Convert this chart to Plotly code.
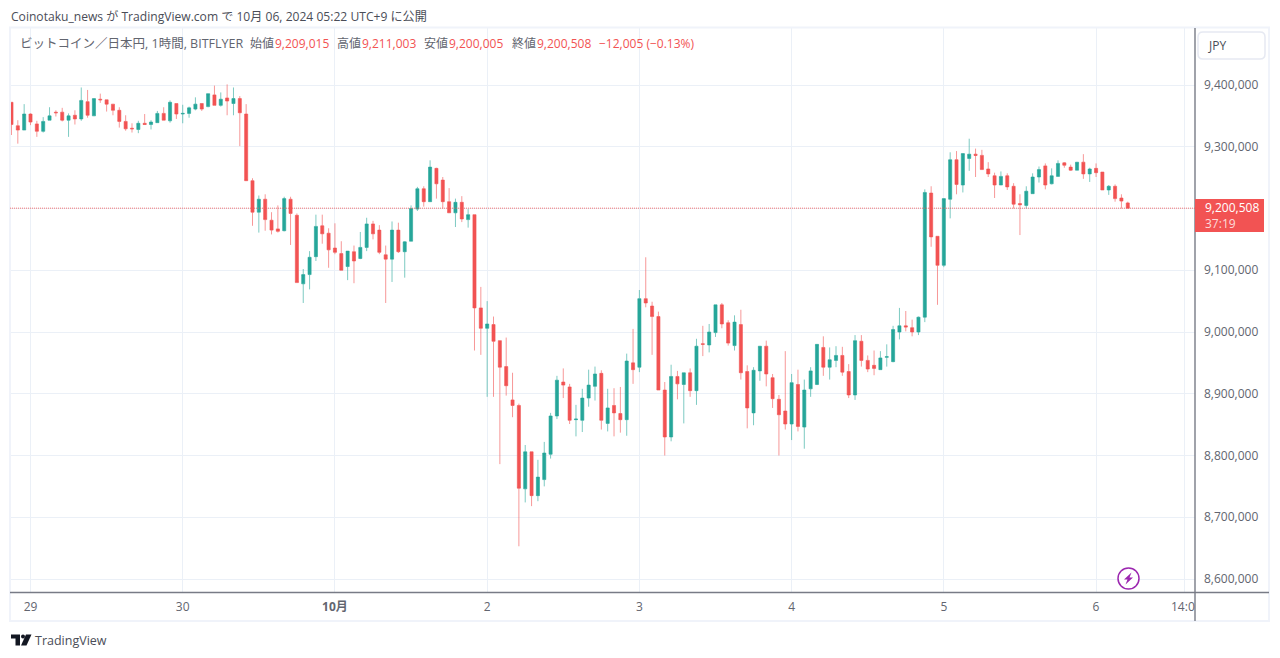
import pandas as pd
import plotly.graph_objects as go

opens = [9372,9334,9327,9353,9337,9325,9343,9356,9356,9343,
9351,9345,9373,9350,9377,9376,9369,9359,9341,9330,
9328,9338,9336,9339,9354,9342,9370,9353,9354,9361,
9370,9365,9384,9367,9379,9370,9378,9353,9245,9194,
9215,9181,9167,9164,9215,9189,9078,9093,9122,9172,
9160,9136,9127,9106,9130,9119,9137,9175,9165,9125,
9118,9165,9130,9147,9199,9232,9211,9265,9246,9211,
9193,9210,9182,9190,9039,9006,9012,8986,8944,8890,
8881,8746,8806,8735,8761,8802,8864,8919,8911,8858,
8857,8893,8912,8933,8852,8881,8868,8858,8950,8943,
9054,9042,9025,8906,8830,8928,8915,8934,8905,8981,
8979,8999,9044,9015,8978,9012,8936,8869,8937,8977,
8926,8891,8872,8851,8915,8846,8908,8915,8975,8943,
8954,8962,8936,8898,8985,8954,8946,8939,8959,8952,
9000,9010,9007,9000,9024,9225,9155,9108,9215,9279,
9238,9281,9288,9286,9264,9253,9238,9253,9236,9208,
9205,9224,9251,9269,9240,9252,9274,9267,9262,9275,
9256,9265,9259,9230,9236,9217,9209.015]
highs = [9372,9343,9369,9354,9342,9348,9364,9359,9363,9354,
9359,9396,9392,9378,9386,9376,9369,9364,9351,9338,
9342,9353,9343,9358,9364,9375,9370,9368,9365,9380,
9370,9386,9399,9388,9401,9396,9382,9369,9249,9221,
9223,9194,9205,9219,9219,9192,9102,9131,9190,9190,
9168,9176,9147,9131,9140,9162,9185,9180,9173,9140,
9179,9177,9147,9205,9235,9236,9278,9266,9251,9233,
9216,9220,9199,9190,9073,9050,9025,8986,8991,8934,
8884,8817,8806,8793,8822,8869,8929,8941,8916,8882,
8908,8939,8944,8938,8908,8909,8911,8965,9005,9068,
9121,9049,9033,8919,8947,8937,8934,8941,8989,9010,
9013,9044,9047,9019,9027,9036,8946,8943,8977,8986,
8932,8898,8969,8932,8939,8923,8943,8980,8993,8975,
8977,8976,8948,8995,8995,8962,8970,8969,8980,9010,
9039,9034,9020,9025,9231,9236,9155,9216,9291,9293,
9289,9313,9297,9295,9275,9258,9260,9257,9241,9223,
9236,9257,9268,9273,9265,9278,9275,9271,9275,9288,
9266,9273,9259,9238,9239,9223,9211.003]
lows = [9319,9305,9327,9335,9316,9323,9343,9349,9341,9316,
9336,9342,9347,9350,9371,9357,9351,9331,9326,9323,
9322,9336,9328,9339,9343,9339,9345,9338,9347,9359,
9358,9364,9367,9365,9351,9351,9301,9245,9172,9161,
9164,9158,9161,9163,9141,9080,9047,9069,9115,9143,
9104,9126,9100,9084,9079,9118,9131,9150,9126,9047,
9081,9128,9088,9147,9196,9203,9211,9216,9200,9193,
9170,9178,9169,8970,8963,8895,8895,8786,8897,8862,
8653,8724,8718,8726,8750,8795,8859,8893,8851,8831,
8838,8879,8889,8842,8839,8831,8837,8832,8916,8935,
9040,8963,8906,8800,8823,8891,8852,8895,8882,8961,
8967,8992,9006,8978,8970,8923,8844,8849,8921,8912,
8877,8800,8842,8825,8839,8811,8895,8914,8929,8923,
8943,8929,8893,8890,8944,8935,8930,8939,8944,8951,
8988,9001,8993,8995,9016,9138,9044,9105,9184,9223,
9226,9261,9251,9263,9251,9217,9238,9230,9200,9157,
9200,9224,9242,9231,9239,9252,9266,9261,9262,9248,
9243,9251,9230,9222,9211,9200,9200.005]
closes = [9336,9327,9353,9340,9325,9341,9350,9355,9343,9350,
9345,9375,9351,9378,9376,9369,9359,9341,9329,9329,
9338,9336,9340,9354,9343,9372,9353,9354,9363,9369,
9361,9386,9367,9377,9374,9378,9355,9245,9194,9215,
9182,9165,9163,9216,9192,9080,9093,9121,9171,9159,
9133,9129,9100,9131,9115,9137,9175,9159,9129,9118,
9165,9130,9146,9200,9232,9211,9267,9240,9211,9193,
9210,9183,9190,9039,9006,9013,8985,8943,8913,8881,
8747,8806,8735,8765,8804,8864,8922,8914,8857,8859,
8893,8914,8932,8857,8877,8869,8858,8953,8939,9054,
9047,9025,8906,8830,8928,8916,8934,8905,8977,8980,
9000,9044,9013,8982,9016,8934,8877,8938,8977,8932,
8892,8866,8851,8918,8847,8906,8937,8980,8943,8955,
8962,8935,8898,8986,8954,8940,8941,8958,8960,9004,
9010,9008,9000,9024,9226,9154,9108,9216,9279,9239,
9289,9288,9286,9263,9256,9238,9252,9235,9207,9206,
9228,9251,9263,9238,9253,9273,9270,9262,9275,9256,
9264,9258,9230,9236,9216,9212,9200.508]
hours = pd.date_range("2024-09-28 21:00", periods=len(opens), freq="h")

x_tick_dates = ["2024-09-29","2024-09-30","2024-10-01","2024-10-02","2024-10-03","2024-10-04","2024-10-05","2024-10-06","2024-10-06 14:00"]
x_tick_labels = ["29","30","<b>10月</b>","2","3","4","5","6",""]
y_tick_values = [8600,8700,8800,8900,9000,9100,9200,9300,9400]
y_tick_labels = ["8,600,000","8,700,000","8,800,000","8,900,000","9,000,000","9,100,000","9,200,000","9,300,000","9,400,000"]
last_close = 9200.508

W, H = 1280, 658
RED, GREEN = "#F25353", "#26A69A"
GRID, AXIS, TEXT = "#EBF0F7", "#787B86", "#62656F"
FONT = "'Open Sans','Noto Sans CJK JP',sans-serif"
def px(v): return v / W
def py(v): return 1 - v / H

fig = go.Figure(go.Candlestick(
    x=hours, open=opens, high=highs, low=lows, close=closes,
    increasing=dict(line=dict(color="rgba(38,166,154,0.6)", width=1), fillcolor=GREEN),
    decreasing=dict(line=dict(color="rgba(242,83,83,0.6)", width=1), fillcolor=RED),
    whiskerwidth=0, hoverinfo="skip", showlegend=False))

def rect(x0, y0, x1, y1, line=None, fill=None, width=1):
    return dict(type="rect", xref="paper", yref="paper", x0=px(x0), x1=px(x1), y0=py(y0), y1=py(y1),
                line=dict(color=line or "rgba(0,0,0,0)", width=width if line else 0), fillcolor=fill or "rgba(0,0,0,0)", layer="above")
def seg(x0, y0, x1, y1, color, width=1, dash="solid"):
    return dict(type="line", xref="paper", yref="paper", x0=px(x0), x1=px(x1), y0=py(y0), y1=py(y1),
                line=dict(color=color, width=width, dash=dash), layer="above")
def poly(points, fill):
    d = "M " + " L ".join(f"{px(a):.5f},{py(b):.5f}" for a, b in points) + " Z"
    return dict(type="path", xref="paper", yref="paper", path=d, fillcolor=fill, line=dict(width=0), layer="above")

shapes = [
    rect(10, 27.5, 1269, 621, line="#F0F3FA", width=2),
    seg(10, 592.5, 1269, 592.5, AXIS, 1.4),
    seg(1195, 28, 1195, 621, AXIS, 1.4),
    dict(type="line", xref="x domain", yref="y", x0=0, x1=1, y0=last_close, y1=last_close,
         line=dict(color="rgba(242,83,83,0.8)", width=1, dash="1px,1px"), layer="above"),
    dict(type="path", xref="paper", yref="paper", fillcolor="#FFFFFF", line=dict(color="#E6E9F2", width=1.5), layer="above",
         path=f"M {px(1203)},{py(32)} L {px(1260)},{py(32)} Q {px(1265)},{py(32)} {px(1265)},{py(37)} L {px(1265)},{py(54)} Q {px(1265)},{py(59)} {px(1260)},{py(59)} L {px(1203)},{py(59)} Q {px(1198)},{py(59)} {px(1198)},{py(54)} L {px(1198)},{py(37)} Q {px(1198)},{py(32)} {px(1203)},{py(32)} Z"),
    rect(1195, 199, 1264, 232, fill=RED),
    dict(type="circle", xref="paper", yref="paper", x0=px(1118), x1=px(1139), y0=py(568), y1=py(589),
         line=dict(color="#9C27B0", width=1.5), fillcolor="#FFFFFF", layer="above"),
    poly([(1131.5,572.5),(1124,579.5),(1127.5,579.5),(1125.5,584.5),(1133,577.5),(1129.5,577.5)], "#9C27B0"),
    poly([(11,634.5),(20,634.5),(20,645.5),(15.5,645.5),(15.5,638.5),(11,638.5)], "#131722"),
    dict(type="circle", xref="paper", yref="paper", x0=px(21), x1=px(25), y0=py(634.5), y1=py(638.5),
         fillcolor="#131722", line=dict(width=0), layer="above"),
    poly([(26,634.5),(31.5,634.5),(26.5,645.5),(21,645.5)], "#131722"),
]

def note(text, x, y, size=12, color=TEXT, anchor="left"):
    return dict(text=text, x=px(x), y=py(y), xref="paper", yref="paper", xanchor=anchor, yanchor="middle",
                showarrow=False, font=dict(family=FONT, size=size, color=color), align=anchor)

annotations = [
    note("Coinotaku_news が TradingView.com で 10月 06, 2024 05:22 UTC+9 に公開", 9, 16, 12.1, "#4A4D57"),
    note("ビットコイン／日本円, 1時間, BITFLYER", 18, 44, 12.5, TEXT),
    note("始値", 248, 44, 12, TEXT), note("9,209,015", 273, 44, 12, RED),
    note("高値", 335, 44, 12, TEXT), note("9,211,003", 360, 44, 12, RED),
    note("安値", 422, 44, 12, TEXT), note("9,200,005", 447, 44, 12, RED),
    note("終値", 510, 44, 12, TEXT), note("9,200,508", 535, 44, 12, RED),
    note("−12,005 (−0.13%)", 597, 44, 12, RED),
    note("JPY", 1206, 45, 12, "#4A4D57"),
    note("9,200,508", 1203, 207.5, 12, "#FFFFFF"),
    note("37:19", 1203, 223, 12, "rgba(255,255,255,0.8)"),
    note("14:0", 1169, 606.5, 12, TEXT),
    note("TradingView", 33, 640, 12.5, "#4A4D57"),
]

fig.update_layout(
    width=W, height=H, margin=dict(l=0, r=0, t=0, b=0), autosize=False,
    paper_bgcolor="#FFFFFF", plot_bgcolor="#FFFFFF", showlegend=False,
    shapes=shapes, annotations=annotations, dragmode=False,
    xaxis=dict(domain=[px(10), px(1195)], type="date", rangeslider=dict(visible=False),
               range=["2024-09-28 20:46", "2024-10-06 15:36"], tickmode="array",
               tickvals=x_tick_dates, ticktext=x_tick_labels, showgrid=True, gridcolor=GRID, gridwidth=1.4,
               zeroline=False, showline=False, ticks="", ticklabelstandoff=6,
               tickfont=dict(family=FONT, size=12, color=TEXT)),
    yaxis=dict(domain=[py(592), py(28)], side="right", range=[8578.95, 9492.3], tickmode="array",
               tickvals=y_tick_values, ticktext=y_tick_labels, showgrid=True, gridcolor=GRID, gridwidth=1.4,
               zeroline=False, showline=False, ticks="", ticklabelstandoff=8,
               tickfont=dict(family=FONT, size=12, color=TEXT)),
)

fig.write_html("out.html", config=dict(displayModeBar=False), post_script="document.body.style.margin='0';")
